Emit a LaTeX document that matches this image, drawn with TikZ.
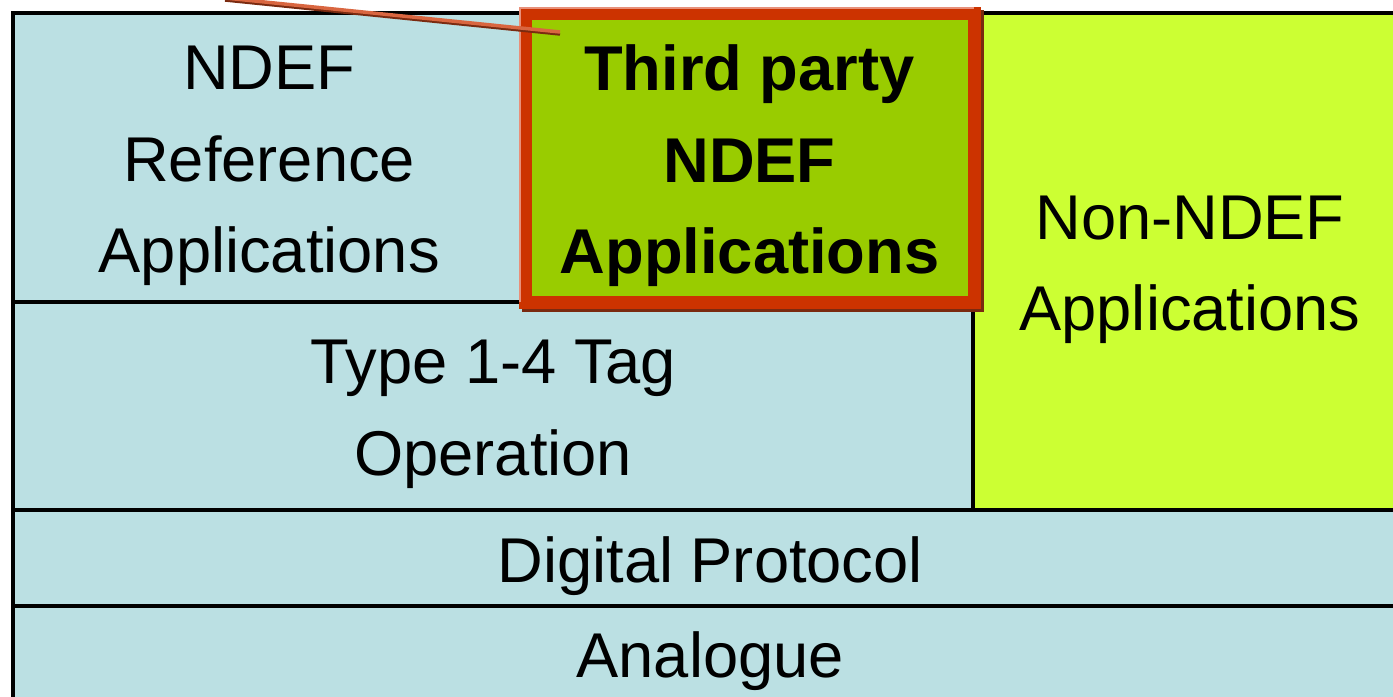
\documentclass[tikz,border=0pt]{standalone}
\usepackage{xcolor}
\usepackage{fontspec}
\setmainfont{Liberation Sans}
\usepackage{tikz}
\usetikzlibrary{positioning}

\definecolor{layerblue}{HTML}{BBE0E3}
\definecolor{thirdgreen}{HTML}{99CC00}
\definecolor{calloutred}{HTML}{CC3300}
\definecolor{calloutlight}{HTML}{E8907A}
\definecolor{calloutdark}{HTML}{7A2A10}
\definecolor{nonndeflime}{HTML}{CCFF33}

\begin{document}
	\begin{tikzpicture}[
			layer/.style={draw=black, line width=0.04cm, fill=layerblue, inner sep=0pt, outer sep=0pt},
			thirdbox/.style={draw=calloutred, line width=0.13cm, fill=thirdgreen, inner sep=0pt, outer sep=0pt},
			layertext/.style={align=center, font=\fontsize{18}{26}\selectfont, yshift=-0.08cm},
		]
		\useasboundingbox (0,0) rectangle (13.93,-6.97);
		\clip (0,0) rectangle (13.93,-6.97);
		\node [layer, anchor=north west, minimum width=5.115cm, minimum height=2.89cm] (ref) at (0.135,-0.135) {};
		\node [layer, below right=0cm of ref.south west, minimum width=9.595cm, minimum height=2.08cm] (type) {};
		\node [layer, fill=nonndeflime, above right=0cm of type.south east, minimum width=4.34cm, minimum height=4.97cm] (nonndef) {};
		\node [layer, below right=0cm of type.south west, minimum width=13.935cm, minimum height=0.96cm] (digital) {};
		\node [layer, below right=0cm of digital.south west, minimum width=13.935cm, minimum height=0.935cm] (analogue) {};
		\node [thirdbox, draw=calloutdark, right=0.03cm of ref, yshift=-0.03cm, minimum width=4.49cm, minimum height=2.89cm] (thirdshadow) {};
		\node [thirdbox, right=0cm of ref, minimum width=4.49cm, minimum height=2.89cm] (third) {};
		\draw [calloutlight, line width=0.02cm]
			([shift={(-0.055,0)}]third.south west) -- ([shift={(-0.055,0.055)}]third.north west) -- ([shift={(0,0.055)}]third.north east);
		\node [layertext] (reftxt) at (ref) {NDEF\\Reference\\Applications};
		\node [layertext, font=\fontsize{18}{26}\selectfont\bfseries] (thirdtxt) at (third) {Third party\\NDEF\\Applications};
		\node [layertext] (nonndeftxt) at (nonndef) {Non-NDEF\\Applications};
		\node [layertext] (typetxt) at (type) {Type 1-4 Tag\\Operation};
		\node [layertext] (digitaltxt) at (digital) {Digital Protocol};
		\node [layertext] (analoguetxt) at (analogue) {Analogue};
		\coordinate (calloutstart) at (2.25,0.02);
		\draw [calloutdark, line width=0.025cm] ([yshift=-0.025cm]calloutstart) -- ([shift={(0.35,-0.21)}]third.north west);
		\draw [calloutred!75!white, line width=0.035cm] (calloutstart) -- ([shift={(0.35,-0.185)}]third.north west);
	\end{tikzpicture}
\end{document}
